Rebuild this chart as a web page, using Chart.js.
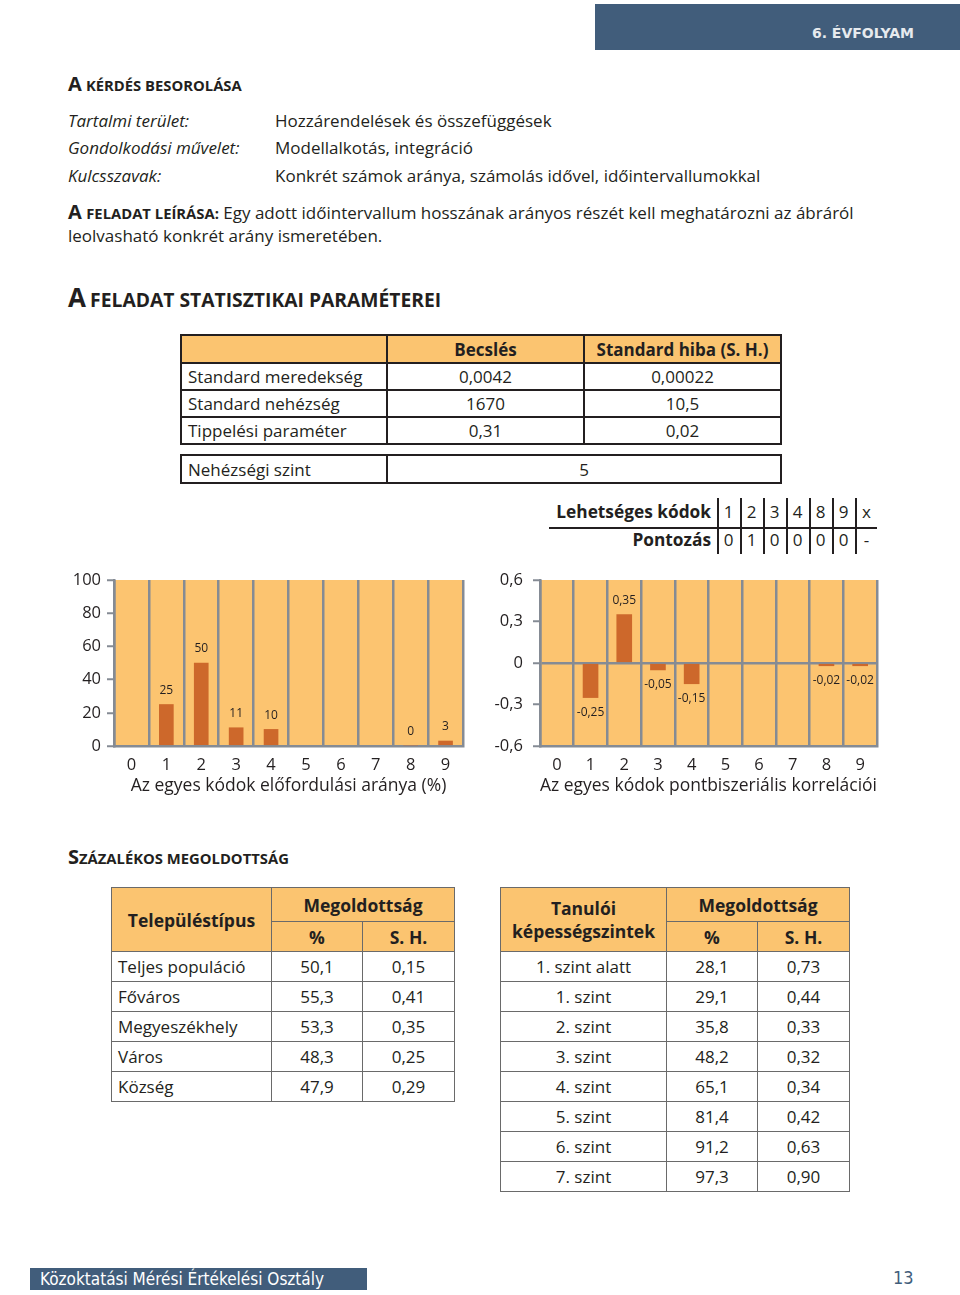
<!DOCTYPE html>
<html><head><meta charset="utf-8">
<script src="https://cdn.jsdelivr.net/npm/chart.js@4.4.1/dist/chart.umd.min.js"></script>
<style>
body{margin:0;background:#fff;}
#page{position:relative;width:960px;height:1295px;overflow:hidden;font-family:"Open Sans",sans-serif;color:#231F20;}
.abs{position:absolute;white-space:nowrap;}
.line{font-size:17px;line-height:20px;}
.big{font-weight:700;font-size:20px;}
.sc{font-weight:700;font-size:14.8px;}
table{border-collapse:collapse;table-layout:fixed;position:absolute;}
td{padding:0;white-space:nowrap;}
.pt td{border:2px solid #231F20;font-size:17px;text-align:center;}
.pt td.l{text-align:left;padding-left:6px;}
.pt tr.h td{background:#FBC470;font-weight:700;}
.mt td{border:1.5px solid #6a6a6a;font-size:17px;text-align:center;}
.mt td.l{text-align:left;padding-left:6px;}
.mt td.h{background:#FBC470;font-weight:700;font-size:17.5px;}
canvas{position:absolute;}
</style></head>
<body><div id="page">
<div class="abs" style="left:595px;top:4px;width:365px;height:46px;background:#415D7B"></div>
<div class="abs" style="right:46px;top:23px;font-family:'DejaVu Sans';font-weight:700;font-size:14px;line-height:20px;color:#E6EAEE;letter-spacing:0px;">6. ÉVFOLYAM</div>

<div class="abs" style="left:68px;top:72px;line-height:24px;"><span class="big">A</span> <span class="sc">KÉRDÉS BESOROLÁSA</span></div>

<div class="abs line" style="left:68px;top:111px;font-style:italic;">Tartalmi terület:</div>
<div class="abs line" style="left:275px;top:111px;">Hozzárendelések és összefüggések</div>
<div class="abs line" style="left:68px;top:138px;font-style:italic;">Gondolkodási művelet:</div>
<div class="abs line" style="left:275px;top:138px;">Modellalkotás, integráció</div>
<div class="abs line" style="left:68px;top:166px;font-style:italic;">Kulcsszavak:</div>
<div class="abs line" style="left:275px;top:166px;">Konkrét számok aránya, számolás idővel, időintervallumokkal</div>

<div class="abs line" style="left:68px;top:200px;line-height:24px;"><span class="big">A</span> <span class="sc">FELADAT LEÍRÁSA:</span> Egy adott időintervallum hosszának arányos részét kell meghatározni az ábráról</div>
<div class="abs line" style="left:68px;top:226px;">leolvasható konkrét arány ismeretében.</div>

<div class="abs" style="left:68px;top:282px;line-height:30px;"><span style="font-weight:700;font-size:26px;">A</span> <span style="font-weight:700;font-size:19.3px;">FELADAT STATISZTIKAI PARAMÉTEREI</span></div>

<table class="pt" style="left:180px;top:334px;width:600px;">
<colgroup><col style="width:206px"><col style="width:197px"><col style="width:197px"></colgroup>
<tbody id="paramBody"></tbody></table>

<table class="pt" style="left:180px;top:454px;width:600px;">
<colgroup><col style="width:206px"><col style="width:394px"></colgroup>
<tr style="height:28px"><td class="l">Nehézségi szint</td><td id="diffCell"></td></tr></table>

<div id="codes"></div>

<canvas id="c1" width="414" height="246" style="left:56px;top:560px;"></canvas>
<canvas id="c2" width="410" height="246" style="left:482px;top:560px;"></canvas>

<div class="abs" style="left:68px;top:845px;line-height:24px;"><span class="big">S</span><span class="sc">ZÁZALÉKOS MEGOLDOTTSÁG</span></div>

<table class="mt" style="left:111px;top:887px;width:343px;">
<colgroup><col style="width:160px"><col style="width:91px"><col style="width:92px"></colgroup>
<tbody id="tblA"></tbody></table>

<table class="mt" style="left:500px;top:887px;width:349px;">
<colgroup><col style="width:166px"><col style="width:91px"><col style="width:92px"></colgroup>
<tbody id="tblB"></tbody></table>

<div class="abs" style="left:30px;top:1268px;width:337px;height:22px;background:#415D7B"></div>
<div class="abs" style="left:40px;top:1268px;line-height:22px;font-family:'DejaVu Sans Condensed','DejaVu Sans';font-size:17px;color:#fff;">Közoktatási Mérési Értékelési Osztály</div>
<div class="abs" style="left:893px;top:1266px;line-height:24px;font-family:'DejaVu Sans Condensed','DejaVu Sans';font-size:18px;color:#415D7B;">13</div>
</div>

<script>
// ---- data ----
const codes = ['0','1','2','3','4','5','6','7','8','9'];
const freqValues = [null, 25, 50, 11, 10, null, null, null, 0, 3];
const corrValues = [null, -0.25, 0.35, -0.05, -0.15, null, null, null, -0.02, -0.02];
const freqTicks = [0, 20, 40, 60, 80, 100];
const corrTicks = [-0.6, -0.3, 0, 0.3, 0.6];
const freqTitle = 'Az egyes kódok előfordulási aránya (%)';
const corrTitle = 'Az egyes kódok pontbiszeriális korrelációi';

const paramHeader = ['', 'Becslés', 'Standard hiba (S. H.)'];
const paramNames = ['Standard meredekség', 'Standard nehézség', 'Tippelési paraméter'];
const paramEstimates = ['0,0042', '1670', '0,31'];
const paramErrors = ['0,00022', '10,5', '0,02'];
const difficultyLevel = '5';

const possibleCodes = ['1','2','3','4','8','9','x'];
const codeScores = ['0','1','0','0','0','0','-'];

const settlementTypes = ['Teljes populáció','Főváros','Megyeszékhely','Város','Község'];
const settlementPct = ['50,1','55,3','53,3','48,3','47,9'];
const settlementSE = ['0,15','0,41','0,35','0,25','0,29'];

const abilityLevels = ['1. szint alatt','1. szint','2. szint','3. szint','4. szint','5. szint','6. szint','7. szint'];
const abilityPct = ['28,1','29,1','35,8','48,2','65,1','81,4','91,2','97,3'];
const abilitySE = ['0,73','0,44','0,33','0,32','0,34','0,42','0,63','0,90'];

// ---- tables ----
(function(){
  let h = '<tr class="h" style="height:28px">' + paramHeader.map(t=>'<td>'+t+'</td>').join('') + '</tr>';
  paramNames.forEach((n,i)=>{ h += '<tr style="height:27px"><td class="l">'+n+'</td><td>'+paramEstimates[i]+'</td><td>'+paramErrors[i]+'</td></tr>'; });
  document.getElementById('paramBody').innerHTML = h;
  document.getElementById('diffCell').textContent = difficultyLevel;

  const cw = 23, x0 = 717;
  let c = '<div class="abs" style="left:549px;top:527px;width:328px;height:1.5px;background:#231F20"></div>';
  c += '<div class="abs" style="left:510px;top:500px;width:201px;text-align:right;font-weight:700;font-size:17.3px;line-height:24px;">Lehetséges kódok</div>';
  c += '<div class="abs" style="left:510px;top:528px;width:201px;text-align:right;font-weight:700;font-size:17.3px;line-height:24px;">Pontozás</div>';
  possibleCodes.forEach((k,i)=>{
    const x = x0 + i*cw;
    c += '<div class="abs" style="left:'+x+'px;top:498px;width:1.5px;height:56px;background:#231F20"></div>';
    c += '<div class="abs" style="left:'+x+'px;top:500px;width:'+cw+'px;text-align:center;font-size:17px;line-height:24px;">'+k+'</div>';
    c += '<div class="abs" style="left:'+x+'px;top:528px;width:'+cw+'px;text-align:center;font-size:17px;line-height:24px;">'+codeScores[i]+'</div>';
  });
  document.getElementById('codes').innerHTML = c;

  function mtable(id, title, names, pct, se, centerFirst){
    let s = '<tr style="height:34px"><td class="h" rowspan="2">'+title+'</td><td class="h" colspan="2">Megoldottság</td></tr>';
    s += '<tr style="height:30px"><td class="h">%</td><td class="h">S. H.</td></tr>';
    names.forEach((n,i)=>{ s += '<tr style="height:30px"><td'+(centerFirst?'':' class="l"')+'>'+n+'</td><td>'+pct[i]+'</td><td>'+se[i]+'</td></tr>'; });
    document.getElementById(id).innerHTML = s;
  }
  mtable('tblA','Településtípus', settlementTypes, settlementPct, settlementSE, false);
  mtable('tblB','<div style="line-height:23px">Tanulói<br>képességszintek</div>', abilityLevels, abilityPct, abilitySE, true);
})();

// ---- charts ----
const FONT = "'Open Sans', sans-serif";
const TXT = '#231F20';
const GRID = '#858B94';
const BAR = '#CD682B';
const PLOT_BG = '#FCC470';
const fmt = v => String(Math.round(v*100)/100).replace('.', ',');

const bgPlugin = { id:'plotBg', beforeDraw(c){ const a=c.chartArea, x=c.ctx; x.save(); x.fillStyle=PLOT_BG; x.fillRect(a.left,a.top,a.right-a.left,a.bottom-a.top); x.restore(); } };
const labelPlugin = { id:'valLabels', afterDatasetsDraw(c){
  const x=c.ctx, ds=c.data.datasets[0], meta=c.getDatasetMeta(0);
  x.save(); x.font = "12px "+FONT; x.fillStyle=TXT; x.textAlign='center'; x.textBaseline='middle';
  ds.data.forEach((v,i)=>{ if(v===null) return; const el=meta.data[i]; const y = v>=0 ? el.y-14 : el.y+15; x.fillText(fmt(v), el.x, y); });
  x.restore(); } };

function makeChart(id, values, o){
  return new Chart(document.getElementById(id), {
    type:'bar',
    data:{ labels:codes, datasets:[{ data:values, backgroundColor:BAR, barThickness:o.bar, borderWidth:0 }] },
    options:{
      animation:false, responsive:false, maintainAspectRatio:false,
      layout:{ padding:{ top:20, right:o.padRight, bottom:0, left:0 } },
      plugins:{ legend:{display:false}, tooltip:{enabled:false} },
      scales:{
        x:{ grid:{ offset:true, color:GRID, lineWidth:2.5, drawTicks:false },
            border:{ display:true, color:GRID, width:2.5 },
            ticks:{ color:TXT, font:{family:FONT,size:16.5}, padding:9, maxRotation:0, autoSkip:false },
            title:{ display:true, text:o.title, color:TXT, font:{family:FONT,size:17.5}, padding:{top:0,bottom:9} },
            afterFit:s=>{ s.height=60; } },
        y:{ min:o.ticks[0], max:o.ticks[o.ticks.length-1],
            afterBuildTicks:s=>{ s.ticks = o.ticks.map(v=>({value:v})); },
            grid:{ color:ctx=>(o.zero && ctx.tick && ctx.tick.value===0)?GRID:'rgba(0,0,0,0)', tickColor:GRID, tickLength:7, lineWidth:2.5, tickWidth:2 },
            border:{ display:true, color:GRID, width:2.5 },
            ticks:{ color:TXT, font:{family:FONT,size:16.5}, padding:o.tickPad, callback:v=>fmt(v) },
            afterFit:s=>{ s.width=58; } }
      }
    },
    plugins:[bgPlugin, labelPlugin]
  });
}
makeChart('c1', freqValues, { bar:14, padRight:7, title:freqTitle, ticks:freqTicks, zero:false, tickPad:6 });
makeChart('c2', corrValues, { bar:15, padRight:15, title:corrTitle, ticks:corrTicks, zero:true, tickPad:10 });
</script>
</body></html>
